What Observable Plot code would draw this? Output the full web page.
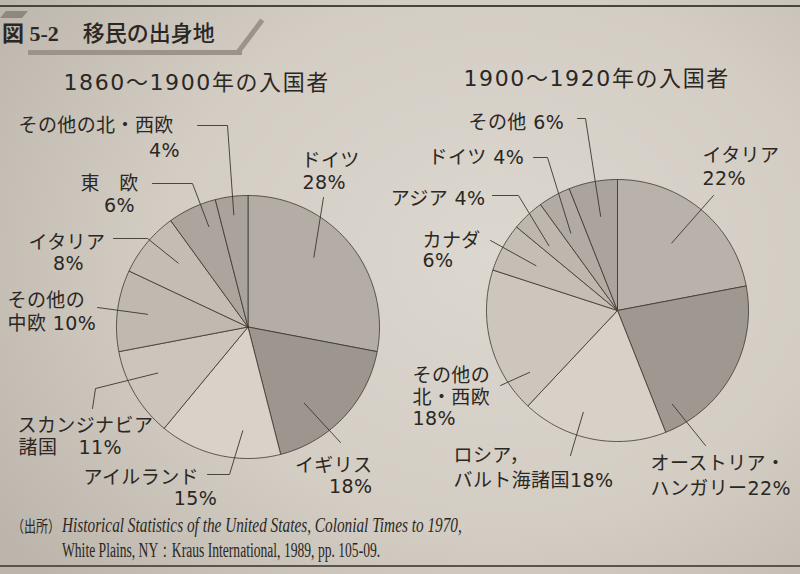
<!DOCTYPE html>
<html><head><meta charset="utf-8">
<script src="https://cdn.jsdelivr.net/npm/d3@7"></script>
<script src="https://cdn.jsdelivr.net/npm/@observablehq/plot@0.6"></script>
<style>
html,body{margin:0;padding:0;}
body{width:800px;height:574px;overflow:hidden;position:relative;
 background: radial-gradient(ellipse 75% 85% at 62% 45%, #dcd7cf 0%, #d3cdc4 55%, #bbb5ac 100%);
 color:#2b2723;font-family:"DejaVu Sans","Noto Sans CJK JP",sans-serif;}
#head{position:relative;height:48px;}
#chart{position:relative;height:460px;}
#foot{position:relative;height:66px;}
.abs{position:absolute;}
.cap{position:absolute;left:62px;font-family:"Liberation Serif",serif;font-size:20px;white-space:nowrap;transform-origin:0 50%;}
</style></head>
<body>
<div id="head">
  <div class="abs" style="left:0;top:5px;width:800px;height:2px;background:#4a443e"></div>
  <div class="abs" style="left:0;top:11px;width:22px;height:7px;background:#8e8880;transform:skewX(-40deg);transform-origin:0 100%"></div>
  <div class="abs" style="left:2px;top:17px;font-size:22px;line-height:28px;white-space:nowrap">
    <span style="font-family:'Liberation Serif','Noto Sans CJK JP',serif;font-weight:bold">図 5-2</span><span style="margin-left:24px;font-family:'Noto Sans CJK JP',sans-serif;font-weight:500">移民の出身地</span>
  </div>
  <div class="abs" style="left:28px;top:50px;width:214px;height:5px;background:#9a948c;z-index:2"></div>
  <div class="abs" style="left:239px;top:50px;width:42px;height:5px;background:#9a948c;transform:rotate(-53deg);transform-origin:0 100%;z-index:2"></div>
</div>
<div id="chart"></div>
<div id="foot">
  <div class="abs" id="cap0" style="left:12px;top:6px;font-family:'Noto Sans CJK JP',sans-serif;font-size:16px;line-height:22px;white-space:nowrap;transform-origin:0 50%">（出所）</div>
  <div class="cap" id="cap1" style="top:5px;font-style:italic;line-height:24px">Historical Statistics of the United States, Colonial Times to 1970,</div>
  <div class="cap" id="cap2" style="top:30px;line-height:24px">White Plains, NY：Kraus International, 1989, pp. 105-09.</div>
  <div class="abs" style="left:0;top:57px;width:800px;height:2px;background:#5a544d"></div>
</div>
<script>
// ---- data ----
const leftTitle = "1860〜1900年の入国者";
const leftCategories = ["ドイツ","イギリス","アイルランド","スカンジナビア諸国","その他の中欧","イタリア","東欧","その他の北・西欧"];
const leftValues = [28, 18, 15, 11, 10, 8, 6, 4];
const rightTitle = "1900〜1920年の入国者";
const rightCategories = ["イタリア","オーストリア・ハンガリー","ロシア，バルト海諸国","その他の北・西欧","カナダ","アジア","ドイツ","その他"];
const rightValues = [22, 22, 18, 18, 6, 4, 4, 6];

// ---- styles / layout ----
const leftColors  = ["#b3ada5","#9c968e","#d8d2c9","#cbc5bc","#bfb9b0","#c3bdb4","#aba59d","#a9a39b"];
const rightColors = ["#b8b2aa","#9e9890","#d7d1c8","#ccc6bd","#c4beb5","#bdb7ae","#b1aba3","#aaa49c"];
const leftPie  = {cx: 247.5, cy: 278.5, r: 131.5};
const rightPie = {cx: 617, cy: 262, r: 131};
// label lines: [text template, x, y, anchor]; leader: elbow points; p = position in slice, rf = radius fraction
const leftLabels = [
  {lines:[["ドイツ",301,112,"start"],["{v}%",302,134,"start"]], leader:[[323,149]], p:.43, rf:.73},
  {lines:[["イギリス",372,417,"end"],["{v}%",372,438,"end"]], leader:[[340,394]], p:.66, rf:.72},
  {lines:[["アイルランド",83,429,"start"],["{v}%",195,450,"middle"]], leader:[[207,426],[229,426]], p:.32, rf:.79},
  {lines:[["スカンジナビア",17,377,"start"],["諸国",18,399,"start"],["{v}%",78,399,"start"]], leader:[[92,360],[95,340]], p:.59, rf:.77},
  {lines:[["その他の",7,252,"start"],["中欧 {v}%",7,275,"start"]], leader:[[97,259]], p:.5, rf:.77},
  {lines:[["イタリア",28,194,"start"],["{v}%",68,215,"middle"]], leader:[[113,190],[147,190]], p:.6, rf:.72},
  {lines:[["東　欧",80,135,"start"],["{v}%",119,157,"middle"]], leader:[[152,135],[192,135]], p:.68, rf:.82},
  {lines:[["その他の北・西欧",18,77,"start"],["{v}%",164,102,"middle"]], leader:[[197,77],[227,77]], p:.5, rf:.86}
];
const rightLabels = [
  {lines:[["イタリア",702,107,"start"],["{v}%",702,130,"start"]], leader:[[713,147]], p:.49, rf:.66},
  {lines:[["オーストリア・",650,415,"start"],["ハンガリー{v}%",650,440,"start"]], leader:[[705,397]], p:.89, rf:.83},
  {lines:[["ロシア，",453,407,"start"],["バルト海諸国{v}%",453,432,"start"]], leader:[[570,407]], p:.62, rf:.82},
  {lines:[["その他の",412,327,"start"],["北・西欧",412,349,"start"],["{v}%",412,370,"start"]], leader:[[500,337]], p:.18, rf:.82},
  {lines:[["カナダ",422,192,"start"],["{v}%",422,212,"start"]], leader:[[490,192]], p:.5, rf:.71},
  {lines:[["アジア {v}%",485,150,"end"]], leader:[[492,147],[518,147]], p:.26, rf:.72},
  {lines:[["ドイツ {v}%",428,109,"start"]], leader:[[533,109],[547,109]], p:.34, rf:.69},
  {lines:[["その他 {v}%",468,74,"start"]], leader:[[577,70],[585,70]], p:.53, rf:.73}
];

const INK = "#2b2723", LINE = "#3b352f";
const FONT = "DejaVu Sans, Noto Sans CJK JP, sans-serif";

function pieMarks(values, cats, colors, geo, labels){
  const arcs = d3.pie().sort(null).startAngle(0).endAngle(2*Math.PI)(values);
  const marks = [];
  arcs.forEach((a, i) => {
    const pts = [{x: geo.cx, y: geo.cy, k: cats[i]}];
    const n = Math.max(2, Math.ceil((a.endAngle - a.startAngle) / (Math.PI/180)));
    for (let k = 0; k <= n; k++) {
      const t = a.startAngle + (a.endAngle - a.startAngle) * k / n;
      pts.push({x: geo.cx + geo.r*Math.sin(t), y: geo.cy - geo.r*Math.cos(t), k: cats[i]});
    }
    pts.push({x: geo.cx, y: geo.cy, k: cats[i]});
    marks.push(Plot.line(pts, {x:"x", y:"y", fill: colors[i], stroke: LINE, strokeWidth: 0.8, curve:"linear"}));
  });
  arcs.forEach((a, i) => {
    const L = labels[i];
    const t = a.startAngle + (a.endAngle - a.startAngle) * L.p;
    const inner = {x: geo.cx + geo.r*L.rf*Math.sin(t), y: geo.cy - geo.r*L.rf*Math.cos(t)};
    const pts = L.leader.map(([x,y]) => ({x, y})).concat([inner]);
    marks.push(Plot.line(pts, {x:"x", y:"y", stroke: LINE, strokeWidth: 0.9}));
    const lines = L.lines.map(([txt,x,y,anchor]) => ({text: txt.replace("{v}", values[i]), x, y, anchor}));
    ["start","middle","end"].forEach(an => {
      const sub = lines.filter(d => d.anchor === an);
      if (sub.length) marks.push(Plot.text(sub, {x:"x", y:"y", text:"text", textAnchor: an, lineAnchor:"middle", fontSize: 19, fill: INK, fontFamily: FONT, className: "lbl"}));
    });
  });
  return marks;
}

const titles = [
  {text: leftTitle, x: 63, y: 34},
  {text: rightTitle, x: 463, y: 30}
];

const plot = Plot.plot({
  width: 800, height: 460,
  margin: 0,
  x: {domain: [0, 800], axis: null},
  y: {domain: [0, 460], reverse: true, axis: null},
  style: {background: "transparent", overflow: "visible"},
  marks: [
    ...pieMarks(leftValues, leftCategories, leftColors, leftPie, leftLabels),
    ...pieMarks(rightValues, rightCategories, rightColors, rightPie, rightLabels),
    Plot.text(titles, {x:"x", y:"y", text:"text", textAnchor:"start", lineAnchor:"middle", fontSize: 22, fill: INK, fontFamily: FONT, className: "ttl"})
  ]
});
document.getElementById("chart").appendChild(plot);
d3.select(plot).selectAll("g.ttl text").style("letter-spacing", "1.6px");
d3.select(plot).selectAll("g.lbl text").style("letter-spacing", "0.4px");

// fit condensed caption lines to their printed widths
[["cap0", 48], ["cap1", 400], ["cap2", 318]].forEach(([id, w]) => {
  const el = document.getElementById(id);
  const s = w / el.scrollWidth;
  el.style.transform = `scaleX(${s})`;
});
</script>
</body></html>
